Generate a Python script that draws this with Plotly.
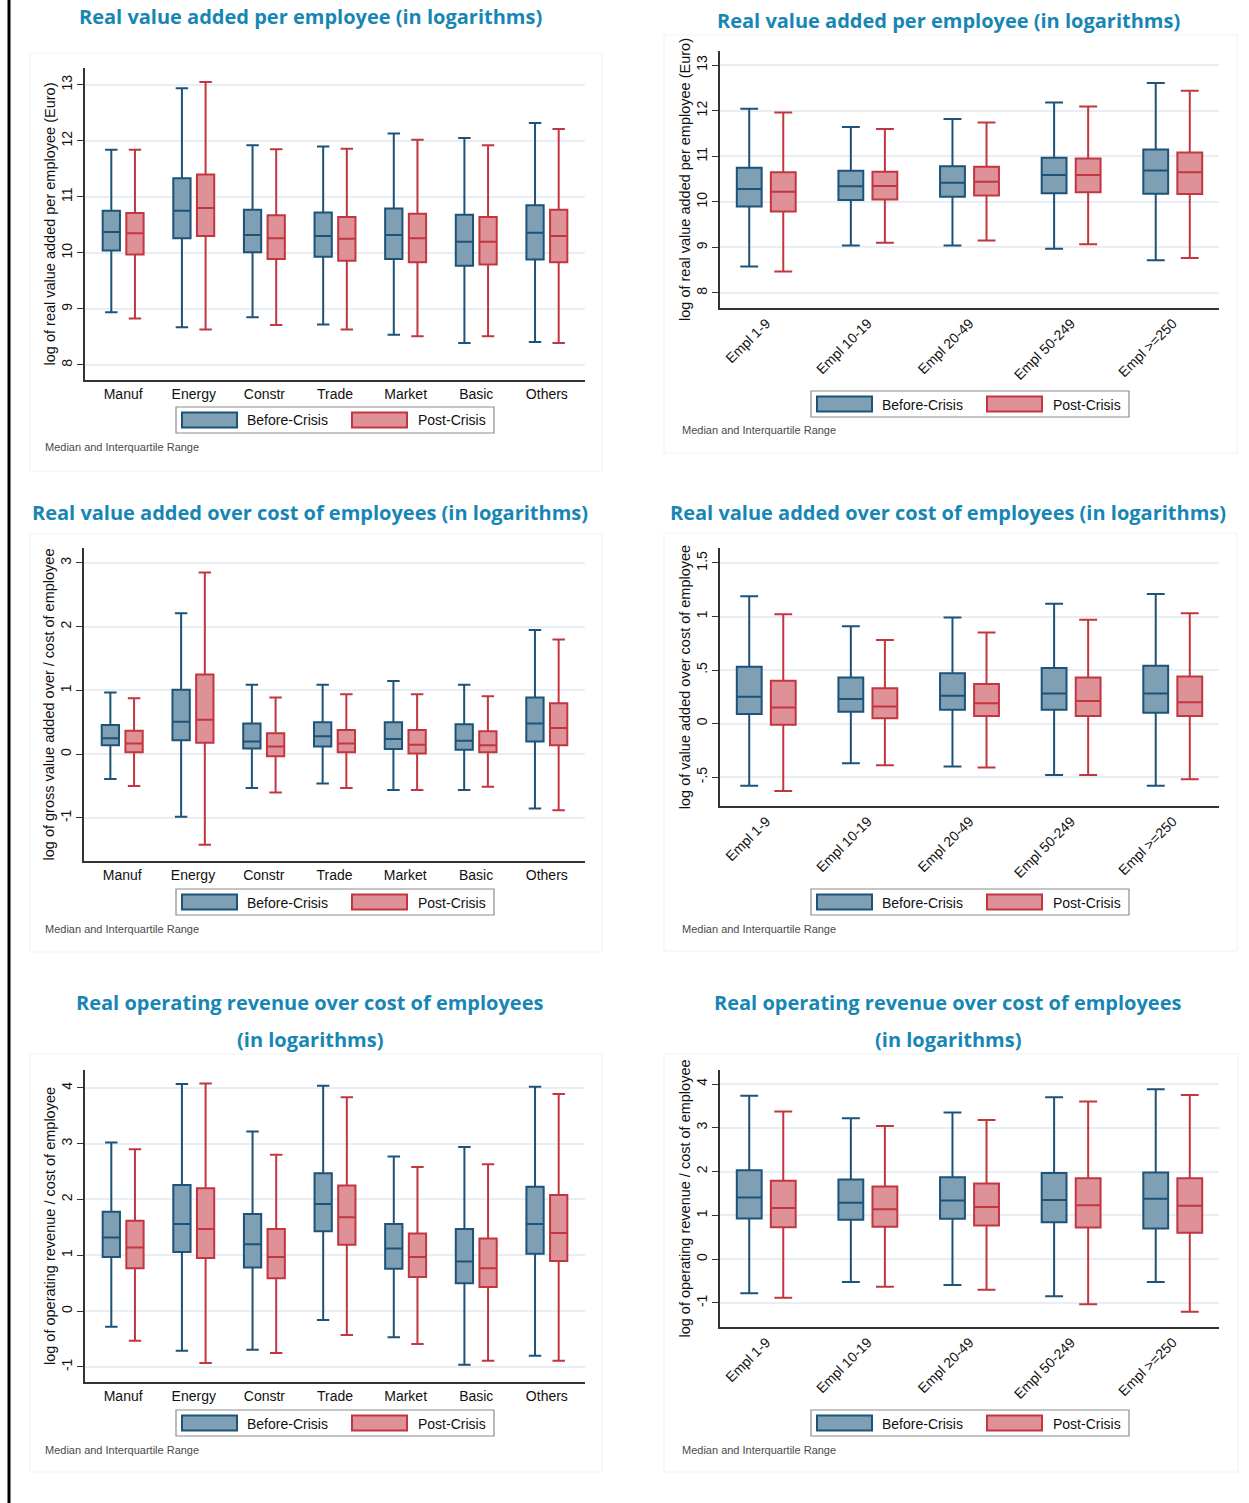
import plotly.graph_objects as go

W, H = 1249, 1503

# ---------------- categories ----------------
sectors = ["Manuf", "Energy", "Constr", "Trade", "Market", "Basic", "Others"]
sizes = ["Empl 1-9", "Empl 10-19", "Empl 20-49", "Empl 50-249", "Empl >=250"]

# ---------------- Panel 1: VA per employee by sector ----------------
p1_pre_lo = [8.94, 8.67, 8.85, 8.72, 8.54, 8.39, 8.41]
p1_pre_q1 = [10.04, 10.26, 10.01, 9.93, 9.89, 9.77, 9.88]
p1_pre_md = [10.37, 10.75, 10.32, 10.30, 10.32, 10.20, 10.36]
p1_pre_q3 = [10.75, 11.33, 10.77, 10.72, 10.79, 10.68, 10.85]
p1_pre_hi = [11.84, 12.94, 11.92, 11.90, 12.13, 12.05, 12.32]
p1_post_lo = [8.83, 8.63, 8.71, 8.63, 8.51, 8.51, 8.39]
p1_post_q1 = [9.97, 10.30, 9.89, 9.86, 9.83, 9.79, 9.83]
p1_post_md = [10.35, 10.80, 10.26, 10.25, 10.26, 10.20, 10.30]
p1_post_q3 = [10.71, 11.40, 10.67, 10.64, 10.70, 10.64, 10.77]
p1_post_hi = [11.84, 13.05, 11.85, 11.86, 12.02, 11.92, 12.21]

# ---------------- Panel 2: VA per employee by size ----------------
p2_pre_lo = [8.58, 9.04, 9.04, 8.97, 8.72]
p2_pre_q1 = [9.90, 10.04, 10.11, 10.19, 10.18]
p2_pre_md = [10.28, 10.34, 10.42, 10.59, 10.69]
p2_pre_q3 = [10.75, 10.68, 10.78, 10.97, 11.15]
p2_pre_hi = [12.04, 11.64, 11.82, 12.18, 12.61]
p2_post_lo = [8.47, 9.10, 9.15, 9.07, 8.77]
p2_post_q1 = [9.79, 10.05, 10.14, 10.21, 10.17]
p2_post_md = [10.22, 10.35, 10.44, 10.59, 10.65]
p2_post_q3 = [10.65, 10.66, 10.77, 10.95, 11.08]
p2_post_hi = [11.96, 11.60, 11.74, 12.09, 12.44]

# ---------------- Panel 3: VA over cost of employees by sector ----------------
p3_pre_lo = [-0.39, -0.98, -0.53, -0.46, -0.56, -0.56, -0.85]
p3_pre_q1 = [0.14, 0.22, 0.09, 0.12, 0.08, 0.07, 0.20]
p3_pre_md = [0.25, 0.51, 0.20, 0.28, 0.24, 0.21, 0.48]
p3_pre_q3 = [0.46, 1.01, 0.48, 0.50, 0.50, 0.47, 0.89]
p3_pre_hi = [0.97, 2.21, 1.09, 1.09, 1.15, 1.09, 1.95]
p3_post_lo = [-0.50, -1.42, -0.60, -0.53, -0.56, -0.51, -0.88]
p3_post_q1 = [0.03, 0.18, -0.03, 0.03, 0.01, 0.03, 0.14]
p3_post_md = [0.17, 0.54, 0.12, 0.17, 0.15, 0.14, 0.41]
p3_post_q3 = [0.37, 1.25, 0.33, 0.38, 0.38, 0.36, 0.80]
p3_post_hi = [0.88, 2.85, 0.89, 0.94, 0.94, 0.91, 1.80]

# ---------------- Panel 4: VA over cost of employees by size ----------------
p4_pre_lo = [-0.58, -0.37, -0.40, -0.48, -0.58]
p4_pre_q1 = [0.09, 0.11, 0.13, 0.13, 0.10]
p4_pre_md = [0.25, 0.23, 0.26, 0.28, 0.28]
p4_pre_q3 = [0.53, 0.43, 0.47, 0.52, 0.54]
p4_pre_hi = [1.19, 0.91, 0.99, 1.12, 1.21]
p4_post_lo = [-0.63, -0.39, -0.41, -0.48, -0.52]
p4_post_q1 = [-0.01, 0.05, 0.07, 0.07, 0.07]
p4_post_md = [0.15, 0.16, 0.19, 0.21, 0.20]
p4_post_q3 = [0.40, 0.33, 0.37, 0.43, 0.44]
p4_post_hi = [1.02, 0.78, 0.85, 0.97, 1.03]

# ---------------- Panel 5: operating revenue over cost by sector ----------------
p5_pre_lo = [-0.28, -0.71, -0.69, -0.16, -0.47, -0.96, -0.80]
p5_pre_q1 = [0.97, 1.06, 0.78, 1.43, 0.76, 0.50, 1.03]
p5_pre_md = [1.32, 1.56, 1.20, 1.92, 1.12, 0.89, 1.56]
p5_pre_q3 = [1.78, 2.26, 1.74, 2.47, 1.56, 1.47, 2.23]
p5_pre_hi = [3.02, 4.07, 3.22, 4.04, 2.77, 2.94, 4.02]
p5_post_lo = [-0.53, -0.93, -0.75, -0.43, -0.59, -0.89, -0.89]
p5_post_q1 = [0.77, 0.95, 0.59, 1.19, 0.61, 0.43, 0.90]
p5_post_md = [1.14, 1.47, 0.97, 1.68, 0.97, 0.77, 1.40]
p5_post_q3 = [1.62, 2.20, 1.47, 2.25, 1.39, 1.30, 2.08]
p5_post_hi = [2.90, 4.08, 2.80, 3.83, 2.58, 2.63, 3.89]

# ---------------- Panel 6: operating revenue over cost by size ----------------
p6_pre_lo = [-0.78, -0.52, -0.59, -0.85, -0.52]
p6_pre_q1 = [0.93, 0.90, 0.92, 0.84, 0.70]
p6_pre_md = [1.41, 1.29, 1.34, 1.35, 1.38]
p6_pre_q3 = [2.03, 1.82, 1.87, 1.97, 1.98]
p6_pre_hi = [3.73, 3.22, 3.35, 3.70, 3.88]
p6_post_lo = [-0.88, -0.63, -0.70, -1.03, -1.20]
p6_post_q1 = [0.73, 0.74, 0.77, 0.72, 0.60]
p6_post_md = [1.17, 1.14, 1.19, 1.23, 1.22]
p6_post_q3 = [1.79, 1.66, 1.73, 1.85, 1.85]
p6_post_hi = [3.37, 3.04, 3.18, 3.60, 3.75]

# tick labels
p1_ticks = [8, 9, 10, 11, 12, 13]
p1_ticktext = ["8", "9", "10", "11", "12", "13"]
p3_ticks = [-1, 0, 1, 2, 3]
p3_ticktext = ["-1", "0", "1", "2", "3"]
p4_ticks = [-0.5, 0, 0.5, 1, 1.5]
p4_ticktext = ["-.5", "0", ".5", "1", "1.5"]
p5_ticks = [-1, 0, 1, 2, 3, 4]
p5_ticktext = ["-1", "0", "1", "2", "3", "4"]

title_va = "Real value added per employee (in logarithms)"
title_vc = "Real value added over cost of employees (in logarithms)"
title_or = ["Real operating revenue over cost of employees", "(in logarithms)"]
note = "Median and Interquartile Range"

# ---------------- styling ----------------
PRE_FILL, PRE_LINE = "#7f9fb5", "#1d5279"
POST_FILL, POST_LINE = "#df9198", "#c2363f"
TITLE_COLOR = "#1786b4"
GRID = "#e8eef3"
AXIS = "#333333"
FONT = "Liberation Sans, Arial, sans-serif"
TFONT = "Open Sans, Lato, sans-serif"


def fx(px):
    return px / W


def fy(py):
    return 1 - py / H


panels = [
    dict(cats=sectors, pre=(p1_pre_lo, p1_pre_q1, p1_pre_md, p1_pre_q3, p1_pre_hi),
         post=(p1_post_lo, p1_post_q1, p1_post_md, p1_post_q3, p1_post_hi),
         box=(85, 585, 68, 380), yr=(7.73, 13.30), tv=p1_ticks, tt=p1_ticktext,
         ytitle="log of real value added per employee (Euro)", rot=0,
         title=[title_va], ty=[17], tx=310,
         leg=(176, 407), note=(43, 447), frame=(30, 602, 53, 471)),
    dict(cats=sizes, pre=(p2_pre_lo, p2_pre_q1, p2_pre_md, p2_pre_q3, p2_pre_hi),
         post=(p2_post_lo, p2_post_q1, p2_post_md, p2_post_q3, p2_post_hi),
         box=(720, 1219, 51, 308), yr=(7.67, 13.31), tv=p1_ticks, tt=p1_ticktext,
         ytitle="log of real value added per employee (Euro)", rot=-45,
         title=[title_va], ty=[20], tx=948,
         leg=(811, 391), note=(680, 430), frame=(664, 1237, 35, 453)),
    dict(cats=sectors, pre=(p3_pre_lo, p3_pre_q1, p3_pre_md, p3_pre_q3, p3_pre_hi),
         post=(p3_post_lo, p3_post_q1, p3_post_md, p3_post_q3, p3_post_hi),
         box=(84, 585, 548, 861), yr=(-1.675, 3.235), tv=p3_ticks, tt=p3_ticktext,
         ytitle="log of gross value added over / cost of employee", rot=0,
         title=[title_vc], ty=[512], tx=310,
         leg=(176, 889), note=(43, 929), frame=(30, 602, 534, 952)),
    dict(cats=sizes, pre=(p4_pre_lo, p4_pre_q1, p4_pre_md, p4_pre_q3, p4_pre_hi),
         post=(p4_post_lo, p4_post_q1, p4_post_md, p4_post_q3, p4_post_hi),
         box=(720, 1219, 548, 806), yr=(-0.77, 1.64), tv=p4_ticks, tt=p4_ticktext,
         ytitle="log of value added over cost of employee", rot=-45,
         title=[title_vc], ty=[512], tx=948,
         leg=(811, 889), note=(680, 929), frame=(664, 1237, 533, 951)),
    dict(cats=sectors, pre=(p5_pre_lo, p5_pre_q1, p5_pre_md, p5_pre_q3, p5_pre_hi),
         post=(p5_post_lo, p5_post_q1, p5_post_md, p5_post_q3, p5_post_hi),
         box=(85, 585, 1070, 1382), yr=(-1.27, 4.32), tv=p5_ticks, tt=p5_ticktext,
         ytitle="log of operating revenue / cost of employee", rot=0,
         title=title_or, ty=[1002, 1039], tx=310,
         leg=(176, 1410), note=(43, 1450), frame=(30, 602, 1054, 1472)),
    dict(cats=sizes, pre=(p6_pre_lo, p6_pre_q1, p6_pre_md, p6_pre_q3, p6_pre_hi),
         post=(p6_post_lo, p6_post_q1, p6_post_md, p6_post_q3, p6_post_hi),
         box=(720, 1219, 1070, 1327), yr=(-1.55, 4.32), tv=p5_ticks, tt=p5_ticktext,
         ytitle="log of operating revenue / cost of employee", rot=-45,
         title=title_or, ty=[1002, 1039], tx=948,
         leg=(811, 1410), note=(680, 1450), frame=(664, 1238, 1054, 1472)),
]

fig = go.Figure()
shapes = []
annotations = []
layout_axes = {}

# black border line on the left
shapes.append(dict(type="rect", xref="paper", yref="paper", x0=fx(7.5), x1=fx(10.5),
                   y0=0, y1=1, fillcolor="black", line=dict(width=0), layer="below"))

for i, p in enumerate(panels, start=1):
    xa = "x" if i == 1 else f"x{i}"
    ya = "y" if i == 1 else f"y{i}"
    for name, stats, fill, line in (("Before-Crisis", p["pre"], PRE_FILL, PRE_LINE),
                                    ("Post-Crisis", p["post"], POST_FILL, POST_LINE)):
        lo, q1, md, q3, hi = stats
        fig.add_trace(go.Box(
            x=p["cats"], lowerfence=lo, q1=q1, median=md, q3=q3, upperfence=hi,
            name=name, fillcolor=fill, line=dict(color=line, width=2),
            whiskerwidth=0.72, xaxis=xa, yaxis=ya, showlegend=False,
            offsetgroup=name, boxpoints=False))

    x0, x1, y0, y1 = p["box"]
    xkey = "xaxis" if i == 1 else f"xaxis{i}"
    ykey = "yaxis" if i == 1 else f"yaxis{i}"
    n = len(p["cats"])
    pad = 0.54 if n == 7 else 0.455
    layout_axes[xkey] = dict(
        domain=[fx(x0), fx(x1)], anchor=ya, type="category",
        range=[-pad, n - 1 + pad], showgrid=False, zeroline=False,
        showline=True, linecolor=AXIS, linewidth=1.5, ticks="",
        tickangle=p["rot"], tickfont=dict(family=FONT, size=14, color="#111"),
        fixedrange=True)
    layout_axes[ykey] = dict(
        domain=[fy(y1), fy(y0)], anchor=xa, range=list(p["yr"]),
        tickvals=p["tv"], ticktext=p["tt"], tickangle=-90,
        ticks="outside", ticklen=6, tickwidth=1.2, tickcolor=AXIS,
        showline=True, linecolor=AXIS, linewidth=1.5,
        showgrid=True, gridcolor=GRID, gridwidth=1.5, zeroline=False,
        tickfont=dict(family=FONT, size=14, color="#111"),
        title=dict(text=p["ytitle"], font=dict(family=FONT, size=14.5, color="#111"), standoff=0),
        fixedrange=True)

    # faint panel frame
    fx0, fx1, fy0, fy1 = p["frame"]
    shapes.append(dict(type="rect", xref="paper", yref="paper",
                       x0=fx(fx0), x1=fx(fx1), y0=fy(fy1), y1=fy(fy0),
                       line=dict(color="#edf1f4", width=1), fillcolor="rgba(0,0,0,0)",
                       layer="below"))

    # titles
    for txt, tyy in zip(p["title"], p["ty"]):
        annotations.append(dict(text=f"<b>{txt}</b>", x=fx(p["tx"]), y=fy(tyy),
                                xref="paper", yref="paper", xanchor="center", yanchor="middle",
                                showarrow=False,
                                font=dict(family=TFONT, size=20, color=TITLE_COLOR)))

    # legend (drawn)
    lx, ly = p["leg"]
    shapes.append(dict(type="rect", xref="paper", yref="paper",
                       x0=fx(lx), x1=fx(lx + 318), y0=fy(ly + 26), y1=fy(ly),
                       line=dict(color="#8c8c8c", width=1.2), fillcolor="white"))
    for dx, fill, line, label, tdx in ((6, PRE_FILL, PRE_LINE, "Before-Crisis", 69),
                                       (176, POST_FILL, POST_LINE, "Post-Crisis", 240)):
        shapes.append(dict(type="rect", xref="paper", yref="paper",
                           x0=fx(lx + dx), x1=fx(lx + dx + 55), y0=fy(ly + 20.5), y1=fy(ly + 5.5),
                           line=dict(color=line, width=2), fillcolor=fill))
        annotations.append(dict(text=label, x=fx(lx + tdx), y=fy(ly + 13.5),
                                xref="paper", yref="paper", xanchor="left", yanchor="middle",
                                showarrow=False,
                                font=dict(family=FONT, size=14, color="#111")))

    # note
    nx, ny = p["note"]
    annotations.append(dict(text=note, x=fx(nx), y=fy(ny), xref="paper", yref="paper",
                            xanchor="left", yanchor="middle", showarrow=False,
                            font=dict(family=FONT, size=11, color="#4a4a4a")))

fig.update_layout(
    width=W, height=H, margin=dict(l=0, r=0, t=0, b=0),
    paper_bgcolor="white", plot_bgcolor="white",
    boxmode="group", boxgap=0.33, boxgroupgap=0.27,
    showlegend=False, shapes=shapes, annotations=annotations,
    **layout_axes)

fig.write_html("out.html")
